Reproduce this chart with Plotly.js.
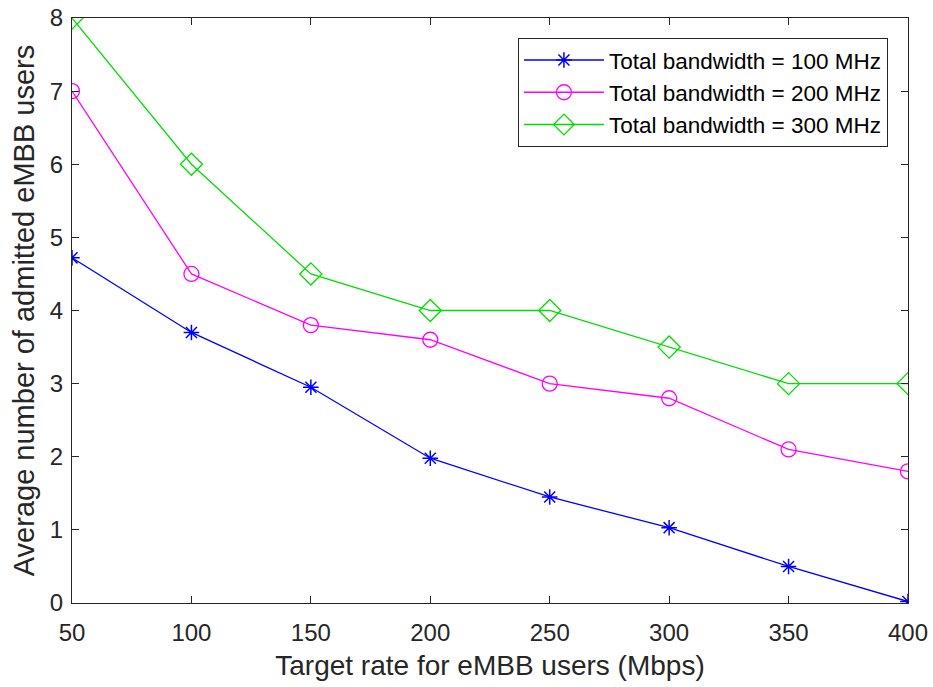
<!DOCTYPE html>
<html>
<head>
<meta charset="utf-8">
<script src="https://cdn.plot.ly/plotly-3.0.1.min.js"></script>
<style>html,body{margin:0;padding:0;background:#fff;}#chart{width:933px;height:687px;}</style>
</head>
<body>
<div id="chart"></div>
<script>
const targetRate = [50, 100, 150, 200, 250, 300, 350, 400];
const bw100 = [4.72, 3.70, 2.95, 1.98, 1.45, 1.03, 0.50, 0.02];
const bw200 = [7.0, 4.5, 3.8, 3.6, 3.0, 2.8, 2.1, 1.8];
const bw300 = [8.0, 6.0, 4.5, 4.0, 4.0, 3.5, 3.0, 3.0];
const seriesNames = ['Total bandwidth = 100 MHz', 'Total bandwidth = 200 MHz', 'Total bandwidth = 300 MHz'];
const xTicks = [50, 100, 150, 200, 250, 300, 350, 400];
const yTicks = [0, 1, 2, 3, 4, 5, 6, 7, 8];

const FONT = 'Liberation Sans, Arial, sans-serif';

const traces = [
  {x: targetRate, y: bw100, name: seriesNames[0], mode: 'lines+markers',
   line: {color: '#0000ff', width: 1.3},
   marker: {symbol: 'asterisk-open', size: 13, color: '#0000ff', line: {color: '#0000ff', width: 1.5}}},
  {x: targetRate, y: bw200, name: seriesNames[1], mode: 'lines+markers',
   line: {color: '#ff00ff', width: 1.3},
   marker: {symbol: 'circle-open', size: 15, color: '#ff00ff', line: {color: '#ff00ff', width: 1.3}}},
  {x: targetRate, y: bw300, name: seriesNames[2], mode: 'lines+markers',
   line: {color: '#00dd00', width: 1.3},
   marker: {symbol: 'diamond-open', size: 17, color: '#00dd00', line: {color: '#00dd00', width: 1.3}}}
];

const axisCommon = {
  showgrid: false, zeroline: false, showline: true, mirror: 'ticks',
  linecolor: '#262626', linewidth: 1.2, ticks: 'inside', ticklen: 7, tickcolor: '#262626',
  tickfont: {family: FONT, size: 24, color: '#262626'}
};

const layout = {
  width: 933, height: 687,
  margin: {l: 72, r: 25, t: 18, b: 84},
  paper_bgcolor: '#fff', plot_bgcolor: '#fff',
  showlegend: true,
  xaxis: Object.assign({}, axisCommon, {
    range: [50, 400], tickvals: xTicks, ticktext: xTicks.map(String),
    ticklabelstandoff: 8,
    title: {text: 'Target rate for eMBB users (Mbps)', standoff: 10,
            font: {family: FONT, size: 28, color: '#262626'}}
  }),
  yaxis: Object.assign({}, axisCommon, {
    range: [0, 8], tickvals: yTicks, ticktext: yTicks.map(String),
    ticklabelstandoff: 3,
    title: {text: 'Average number of admitted eMBB users', standoff: 6,
            font: {family: FONT, size: 29, color: '#262626'}}
  }),
  legend: {
    x: 0.976, y: 0.966, xanchor: 'right', yanchor: 'top',
    bgcolor: '#fff', bordercolor: '#262626', borderwidth: 1,
    font: {family: FONT, size: 22.5, color: '#000'},
    tracegroupgap: 0, itemwidth: 80
  }
};

Plotly.newPlot('chart', traces, layout, {displayModeBar: false, staticPlot: true});
</script>
</body>
</html>
